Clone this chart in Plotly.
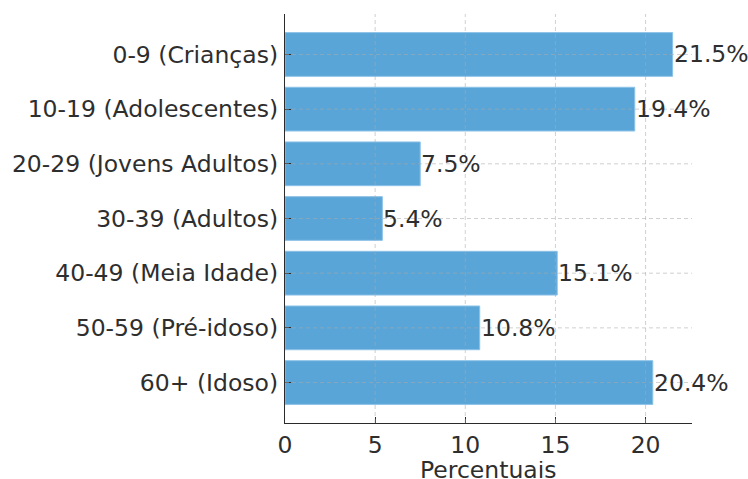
import plotly.graph_objects as go

# Age groups and share of the population in each one (%)
age_groups = [
    "0-9 (Crianças)",
    "10-19 (Adolescentes)",
    "20-29 (Jovens Adultos)",
    "30-39 (Adultos)",
    "40-49 (Meia Idade)",
    "50-59 (Pré-idoso)",
    "60+ (Idoso)",
]
percentages = [21.5, 19.4, 7.5, 5.4, 15.1, 10.8, 20.4]
x_ticks = [0, 5, 10, 15, 20]
x_title = "Percentuais"

FONT = "DejaVu Sans"
FS = 23.5
TEXT = "#2e2e2e"
BAR = "#5aa5d7"
AXIS = "#2b2b2b"
GRID = "rgba(170,170,170,0.55)"

n = len(age_groups)
x_max = max(percentages) * 1.05
positions = list(range(n))

fig = go.Figure()
fig.add_trace(go.Bar(
    x=percentages,
    y=positions,
    orientation="h",
    width=0.8,
    marker=dict(color=BAR, line=dict(color="#8cc2e8", width=1)),
    hoverinfo="skip",
))

# dashed grid drawn over the bars
shapes = []
for t in x_ticks[1:]:
    shapes.append(dict(type="line", xref="x", yref="paper", x0=t, x1=t, y0=0, y1=1,
                       line=dict(color=GRID, width=1, dash="4px,3px"), layer="above"))
for p in positions:
    shapes.append(dict(type="line", xref="paper", yref="y", x0=0, x1=1, y0=p, y1=p,
                       line=dict(color=GRID, width=1, dash="4px,3px"), layer="above"))

# value labels at the end of each bar
annotations = [
    dict(x=v, y=p, xref="x", yref="y", text=f"{v:.1f}%", showarrow=False,
         xanchor="left", yanchor="middle", xshift=-1,
         font=dict(family=FONT, size=FS, color=TEXT))
    for v, p in zip(percentages, positions)
]
# x-axis title below the tick labels
annotations.append(dict(
    x=0.5, y=0, xref="paper", yref="paper", text=x_title, showarrow=False,
    xanchor="center", yanchor="top", yshift=-36, height=18, valign="middle",
    font=dict(family=FONT, size=FS, color=TEXT),
))

fig.update_layout(
    width=748, height=479,
    margin=dict(l=285, r=56, t=14, b=56),
    plot_bgcolor="white", paper_bgcolor="white",
    showlegend=False,
    font=dict(family=FONT, size=FS, color=TEXT),
    shapes=shapes,
    annotations=annotations,
    xaxis=dict(
        range=[0, x_max],
        tickvals=x_ticks,
        ticktext=[str(t) for t in x_ticks],
        showgrid=False, zeroline=False,
        showline=True, linecolor=AXIS, linewidth=1.4,
        ticks="inside", ticklen=6, tickwidth=1.4, tickcolor=AXIS,
        ticklabelstandoff=1,
        automargin=False,
        layer="above traces",
    ),
    yaxis=dict(
        range=[n - 1 + 0.74, -0.74],
        tickvals=positions,
        ticktext=age_groups,
        showgrid=False, zeroline=False,
        showline=True, linecolor=AXIS, linewidth=1.4,
        ticks="inside", ticklen=6, tickwidth=1.4, tickcolor=AXIS,
        ticklabelstandoff=1,
        automargin=False,
        layer="above traces",
    ),
)

fig.write_html("out.html")
